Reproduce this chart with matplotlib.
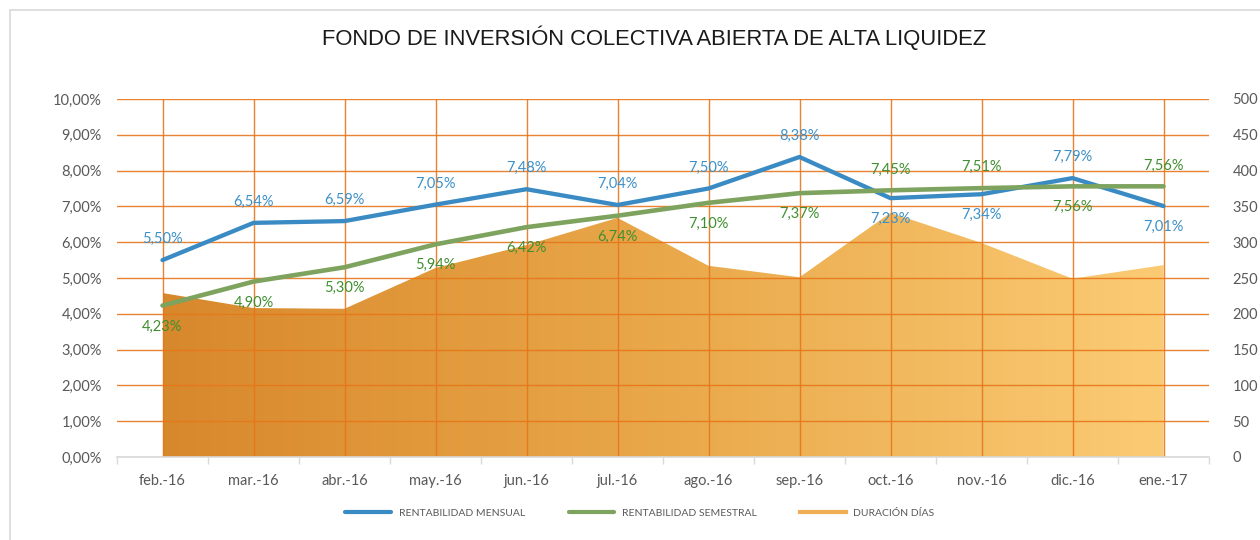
import numpy as np
import matplotlib
matplotlib.use("Agg")
from matplotlib import pyplot as plt
from matplotlib.colors import LinearSegmentedColormap
from matplotlib.lines import Line2D
from matplotlib.patches import Rectangle

# data
meses = ["feb.-16", "mar.-16", "abr.-16", "may.-16", "jun.-16", "jul.-16",
         "ago.-16", "sep.-16", "oct.-16", "nov.-16", "dic.-16", "ene.-17"]
mensual = [5.50, 6.54, 6.59, 7.05, 7.48, 7.04, 7.50, 8.38, 7.23, 7.34, 7.79, 7.01]
semestral = [4.23, 4.90, 5.30, 5.94, 6.42, 6.74, 7.10, 7.37, 7.45, 7.51, 7.56, 7.56]
dias = [229, 208, 207, 264, 296, 334, 267, 251, 341, 299, 249, 268]

# label placement: +1 above the point, -1 below
pos_mensual = [1, 1, 1, 1, 1, 1, 1, 1, -1, -1, 1, -1]
pos_semestral = [-1, -1, -1, -1, -1, -1, -1, -1, 1, 1, -1, 1]

AZUL = "#3A8BC3"
VERDE = "#7DA35E"
TXT_AZUL = "#3C90C8"
TXT_VERDE = "#3F8F30"
NARANJA = "#E8761A"
GRIS = "#595959"

plt.rcParams["font.family"] = ["Lato", "DejaVu Sans"]

fig = plt.figure(figsize=(12.6, 5.4), dpi=100)
fig.patches.append(Rectangle((10 / 1260, -0.1), 1.2, 1 - 10 / 540 + 0.1,
                             transform=fig.transFigure, fill=False,
                             edgecolor="#D9D9D9", lw=1.2))

ax = fig.add_axes([117 / 1260, 1 - 457 / 540, 1092 / 1260, 358 / 540])
ax2 = ax.twinx()

x = np.arange(len(meses))

# area with horizontal gradient (days, right axis)
poly = ax.fill_between(x, dias, color="none", lw=0)
cmap = LinearSegmentedColormap.from_list("dur", ["#D8882C", "#E9A84A", "#FBCB74"])
grad = np.linspace(0, 1, 256).reshape(1, -1)
im = ax.imshow(grad, extent=[0, len(meses) - 1, 0, 500], aspect="auto",
               cmap=cmap, zorder=1)
im.set_clip_path(poly.get_paths()[0], transform=ax.transData)

ax.set_xlim(-0.5, len(meses) - 0.5)
ax.set_ylim(0, 500)
ax.set_yticks(np.arange(0, 501, 50))
ax.yaxis.tick_right()
ax.set_xticks(x)
ax.set_xticklabels(meses)
ax.set_xticks(np.arange(-0.5, len(meses), 1), minor=True)
ax.tick_params(axis="x", which="major", length=0, pad=12, labelsize=10.5, labelcolor=GRIS)
ax.tick_params(axis="x", which="minor", length=5, color="#D9D9D9", width=1)
ax.tick_params(axis="y", length=0, pad=17, labelsize=10.5, labelcolor=GRIS)
ax.set_axisbelow(False)
ax.grid(True, axis="both", which="major", color=NARANJA, lw=1, alpha=0.9)
for s in ax.spines.values():
    s.set_visible(False)

# lines (percent, left axis)
ax2.plot(x, mensual, color=AZUL, lw=3.1, solid_capstyle="round", zorder=3)
ax2.plot(x, semestral, color=VERDE, lw=3.3, solid_capstyle="round", zorder=4)
ax2.set_ylim(0, 10)
ax2.set_yticks(np.arange(0, 10.01, 1))
ax2.set_yticklabels([f"{v:.2f}%".replace(".", ",") for v in np.arange(0, 10.01, 1)])
ax2.yaxis.tick_left()
ax2.tick_params(axis="y", length=0, pad=11, labelsize=10.5, labelcolor=GRIS)
for k, s in ax2.spines.items():
    s.set_visible(k == "bottom")
ax2.spines["bottom"].set_color("#D9D9D9")
ax2.spines["bottom"].set_linewidth(1.2)

for i in range(len(meses)):
    ax2.annotate(f"{mensual[i]:.2f}%".replace(".", ","), (x[i], mensual[i]),
                 xytext=(0, 15 * pos_mensual[i]), textcoords="offset points",
                 ha="center", va="center", fontsize=10.5, color=TXT_AZUL)
    ax2.annotate(f"{semestral[i]:.2f}%".replace(".", ","), (x[i], semestral[i]),
                 xytext=(0, 15 * pos_semestral[i]), textcoords="offset points",
                 ha="center", va="center", fontsize=10.5, color=TXT_VERDE)

fig.text(654 / 1260, 1 - 38 / 540, "FONDO DE INVERSIÓN COLECTIVA ABIERTA DE ALTA LIQUIDEZ",
         ha="center", va="center", fontsize=15.8, color="#1a1a1a",
         family=["Liberation Sans", "DejaVu Sans"])

handles = [Line2D([], [], color=AZUL, lw=3, solid_capstyle="round"),
           Line2D([], [], color=VERDE, lw=3, solid_capstyle="round"),
           Line2D([], [], color="#EFAE55", lw=3)]
leg = fig.legend(handles, ["RENTABILIDAD MENSUAL", "RENTABILIDAD SEMESTRAL", "DURACIÓN DÍAS"],
                 loc="center", bbox_to_anchor=(640 / 1260, 1 - 513 / 540), ncol=3,
                 frameon=False, fontsize=7.5, handlelength=4.4, columnspacing=4.2,
                 handletextpad=0.7)
for t in leg.get_texts():
    t.set_color(GRIS)

fig.savefig("out.png", dpi=100)
